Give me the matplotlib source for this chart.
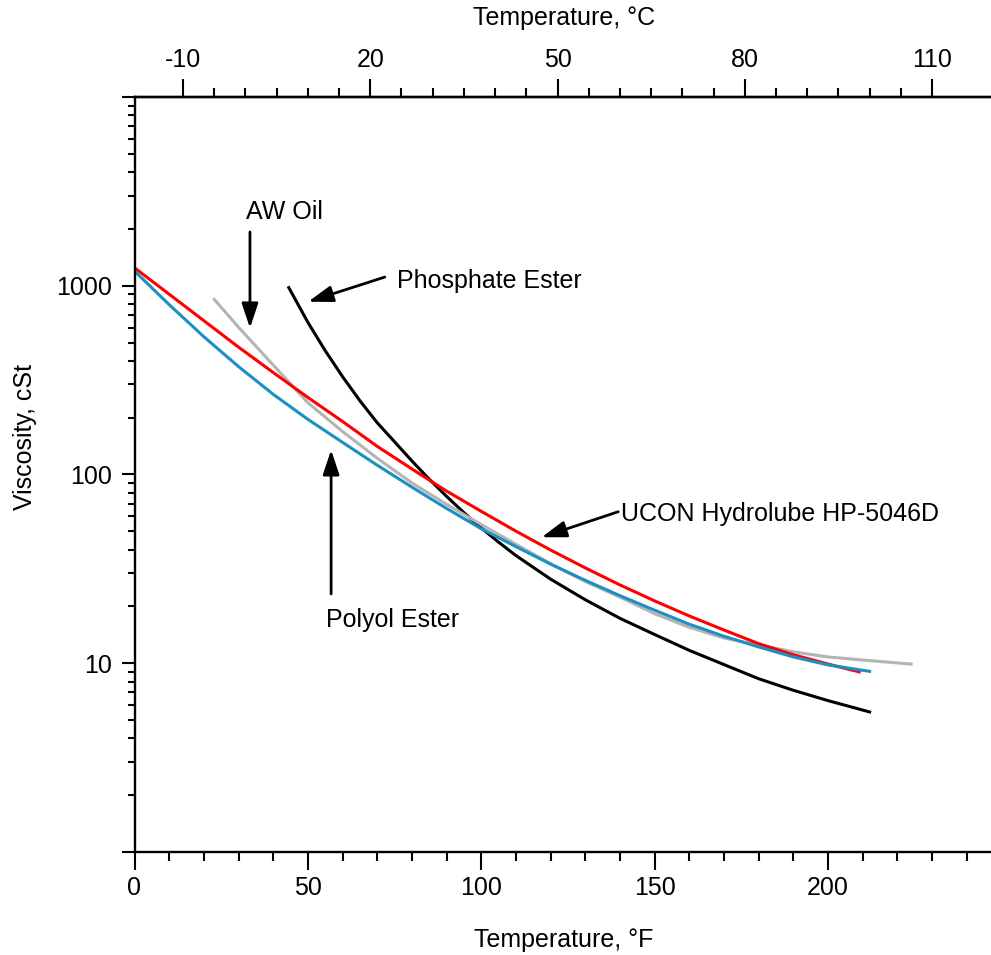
import matplotlib
matplotlib.use('Agg')
import matplotlib.pyplot as plt
from matplotlib.ticker import FixedLocator, FuncFormatter, NullFormatter

plt.rcParams['font.family'] = ['Liberation Sans', 'DejaVu Sans']
plt.rcParams['axes.unicode_minus'] = False

# Temperatures in degF and viscosities in cSt
temp_ucon = [0, 10, 20, 30, 40, 50, 60, 70, 80, 90, 100, 110, 120, 130, 140,
             150, 160, 170, 180, 190, 200, 209]
visc_ucon = [1245, 902, 653, 473, 347, 256, 191, 141, 107, 81.7, 63.8, 50.1,
             39.8, 32.0, 26.0, 21.4, 17.8, 15.0, 12.7, 11.1, 9.9, 9.0]

temp_polyol = [0, 10, 20, 30, 40, 50, 60, 70, 80, 90, 100, 110, 120, 130, 140,
               150, 160, 170, 180, 190, 200, 212]
visc_polyol = [1197, 794, 537, 373, 266, 196, 148, 112, 85.7, 66.1, 51.6, 41.5,
               33.5, 27.5, 22.8, 19.1, 16.1, 13.9, 12.2, 10.8, 9.8, 9.06]

temp_aw = [23, 30, 40, 50, 60, 70, 80, 90, 100, 110, 120, 130, 140, 150, 160,
           170, 180, 190, 200, 210, 224]
visc_aw = [847, 603, 380, 240, 169, 122, 90.2, 69.5, 54.3, 42.7, 33.7, 27.1,
           22.4, 18.3, 15.5, 13.6, 12.5, 11.5, 10.8, 10.4, 9.9]

temp_phos = [44.5, 50, 55, 60, 65, 70, 75, 80, 85, 90, 95, 100, 105, 110, 120,
             130, 140, 150, 160, 170, 180, 190, 200, 212]
visc_phos = [977, 640, 453, 330, 246, 188, 149, 118, 94.4, 76.6, 62.8, 52.1,
             43.8, 37.2, 27.9, 21.7, 17.3, 14.2, 11.7, 9.84, 8.28, 7.19, 6.34, 5.52]

f_major = [0, 50, 100, 150, 200]
f_minor = list(range(10, 250, 10))
c_major = [-10, 20, 50, 80, 110]
c_minor = [c for c in range(-5, 110, 5) if c not in c_major]
v_major = [1, 10, 100, 1000, 10000]
v_labels = {10: '10', 100: '100', 1000: '1000'}

FS = 18


def f2c(f):
    return (f - 32) * 5 / 9


def c2f(c):
    return c * 9 / 5 + 32


fig = plt.figure(figsize=(9.91, 9.55), dpi=100)
ax = fig.add_axes([134.5 / 991, 103 / 955, 1 - 134.5 / 991, 755 / 955])

ax.plot(temp_phos, visc_phos, color='black', lw=2.2)
ax.plot(temp_aw, visc_aw, color='#b4b4b4', lw=2.2)
ax.plot(temp_ucon, visc_ucon, color='#ff0000', lw=2.2)
ax.plot(temp_polyol, visc_polyol, color='#1a90c4', lw=2.2)

ax.set_yscale('log')
ax.set_xlim(0, (991 - 134.5) / 3.4675)
ax.set_ylim(1, 10000)

ax.xaxis.set_major_locator(FixedLocator(f_major))
ax.xaxis.set_minor_locator(FixedLocator(f_minor))
ax.yaxis.set_major_locator(FixedLocator(v_major))
ax.yaxis.set_minor_locator(FixedLocator(
    [m * 10 ** e for e in range(0, 4) for m in range(2, 10)]))
ax.yaxis.set_major_formatter(FuncFormatter(lambda v, p: v_labels.get(int(round(v)), '')))
ax.yaxis.set_minor_formatter(NullFormatter())

ax.spines['right'].set_visible(False)
for s in ['left', 'bottom', 'top']:
    ax.spines[s].set_linewidth(1.7)

ax.tick_params(axis='x', which='major', direction='out', length=13, width=1.5,
               labelsize=FS, pad=4, top=False)
ax.tick_params(axis='x', which='minor', direction='out', length=6.5, width=1.5, top=False)
ax.tick_params(axis='y', which='major', direction='out', length=9.5, width=1.5,
               labelsize=FS, pad=7, right=False)
ax.tick_params(axis='y', which='minor', direction='out', length=5, width=1.5, right=False)

sec = ax.secondary_xaxis('top', functions=(f2c, c2f))
sec.xaxis.set_major_locator(FixedLocator(c_major))
sec.xaxis.set_minor_locator(FixedLocator(c_minor))
sec.spines['top'].set_linewidth(1.7)
sec.tick_params(which='major', direction='out', length=13, width=1.5, labelsize=FS, pad=5)
sec.tick_params(which='minor', direction='out', length=6.5, width=1.5)

xlab_x = 0.5015
ax.set_xlabel('Temperature, °F', fontsize=FS)
ax.xaxis.set_label_coords(xlab_x, -0.1166)
ax.xaxis.label.set_verticalalignment('center')
ax.set_ylabel('Viscosity, cSt', fontsize=FS)
ax.yaxis.set_label_coords(-0.128, 0.55)
ax.yaxis.label.set_verticalalignment('center')
sec.set_xlabel('Temperature, °C', fontsize=FS)
sec.xaxis.set_label_coords(xlab_x, 1.1046, transform=ax.transAxes)
sec.xaxis.label.set_verticalalignment('center')

arrow = dict(arrowstyle='-|>,head_length=0.75,head_width=0.25', color='black',
             lw=2, shrinkA=0, shrinkB=0, mutation_scale=20)

ax.text(32.2, 2460, 'AW Oil', fontsize=FS, va='center', ha='left')
ax.annotate('', xy=(33.3, 597), xytext=(33.3, 1927), arrowprops=arrow)

ax.text(75.7, 1059, 'Phosphate Ester', fontsize=FS, va='center', ha='left')
ax.annotate('', xy=(50.1, 823), xytext=(72.2, 1112), arrowprops=arrow)

ax.text(55.2, 16.9, 'Polyol Ester', fontsize=FS, va='center', ha='left')
ax.annotate('', xy=(56.7, 135), xytext=(56.7, 23.3), arrowprops=arrow)

ax.text(140.3, 61.8, 'UCON Hydrolube HP-5046D', fontsize=FS, va='center', ha='left')
ax.annotate('', xy=(117.4, 46.5), xytext=(139.5, 63.5), arrowprops=arrow)

fig.savefig('out.png', dpi=100)
